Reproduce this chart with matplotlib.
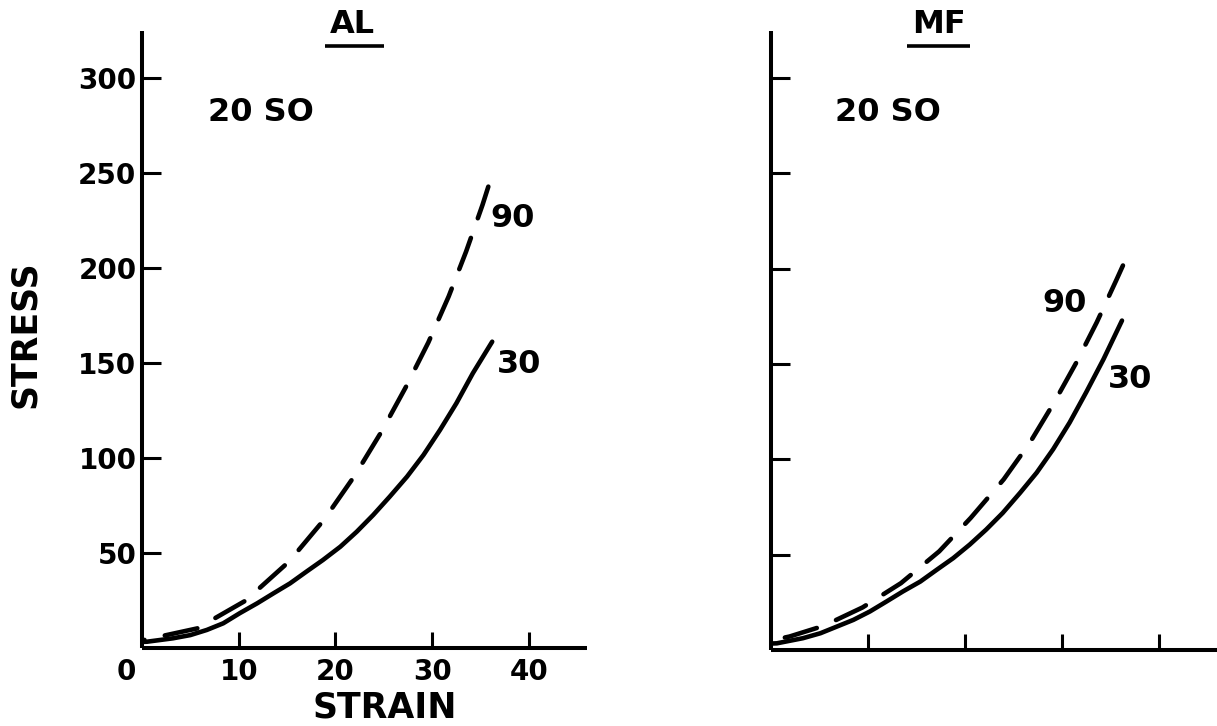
import matplotlib
matplotlib.use("Agg")
import matplotlib.pyplot as plt
import matplotlib.transforms as mtransforms

plt.rcParams['font.family'] = ['DejaVu Sans']
plt.rcParams['font.weight'] = 'bold'
plt.rcParams['lines.scale_dashes'] = False

# ---- data ----
al_90_x = [0, 5.7, 10.7, 15.2, 18.8, 22.0, 24.75, 27.25, 29.6, 31.7, 33.5, 35.2, 35.8]
al_90_y = [4, 10.3, 24.9, 45.5, 67.4, 90.8, 113.8, 137.1, 160.8, 185, 208.6, 233.2, 242.8]
al_30_x = [0, 0.5, 3.2, 5.0, 6.7, 8.4, 10.1, 11.9, 13.6, 15.3, 17.0, 18.7, 20.5, 22.2,
           23.9, 25.6, 27.4, 29.1, 30.8, 32.5, 34.2, 36.2]
al_30_y = [3.2, 3.3, 5.1, 6.8, 9.5, 13, 18.3, 23.5, 28.8, 34, 40.2, 46.3, 53.3, 61.2,
           70, 79.6, 90.2, 101.6, 114.7, 128.8, 144.6, 161.2]

mf_90_x = [0, 1.9, 5.45, 9.45, 13.4, 17.35, 20.6, 24.0, 26.7, 29.25, 31.5, 33.6, 35.6, 36.3]
mf_90_y = [5, 7.05, 12.7, 22.35, 35.05, 51.75, 69.3, 89.5, 108.75, 130.25, 150.85, 171.9,
           193.85, 201.7]
mf_30_x = [0, 0.6, 3.3, 5.1, 6.8, 8.5, 10.2, 11.9, 13.6, 15.4, 17.1, 18.8, 20.5, 22.2,
           23.9, 25.7, 27.4, 29.1, 30.8, 32.5, 34.3, 36.2]
mf_30_y = [3.4, 3.5, 6.2, 8.8, 12.3, 15.8, 20.2, 25.4, 30.7, 35.9, 42.1, 48.2, 55.3, 63.2,
           71.9, 82.5, 93, 105.3, 119.3, 135.1, 152.6, 172.8]

x_ticks = [0, 10, 20, 30, 40]
x_tick_labels = ["0", "10", "20", "30", "40"]
y_ticks = [50, 100, 150, 200, 250, 300]
y_tick_labels = ["50", "100", "150", "200", "250", "300"]
panel_titles = ["AL", "MF"]
series_labels = ["90", "30"]
condition = "20 SO"

W, H = 1217, 726
fig = plt.figure(figsize=(W / 100, H / 100), dpi=100)

def px_axes(x0, x1, ybot, ytop):
    return fig.add_axes([x0 / W, 1 - ybot / H, (x1 - x0) / W, (ybot - ytop) / H])

axL = px_axes(142, 587, 648, 31)
axR = px_axes(771, 1217, 650, 31)

XLIM = (0, 46)
YLIM = (0, 324.7)
lw_curve = 3.3
dash = (0, (24, 15))

def style(ax):
    ax.set_xlim(*XLIM)
    ax.set_ylim(*YLIM)
    for s in ['top', 'right']:
        ax.spines[s].set_visible(False)
    for s in ['left', 'bottom']:
        ax.spines[s].set_linewidth(2.9)
        ax.spines[s].set_capstyle('butt')
    ax.tick_params(axis='y', direction='in', length=14, width=2.2, color='black')
    ax.tick_params(axis='x', direction='in', length=11.5, width=2.2, color='black')

for ax in (axL, axR):
    style(ax)

# Left panel (dashed drawn from its upper end so the dash pattern starts there)
axL.plot(al_90_x[::-1], al_90_y[::-1], color='black', lw=lw_curve, linestyle=dash,
         dash_capstyle='round', solid_capstyle='round', solid_joinstyle='round')
axL.plot(al_30_x, al_30_y, color='black', lw=lw_curve, solid_capstyle='round',
         solid_joinstyle='round')
axL.set_xticks(x_ticks)
axL.set_xticklabels(x_tick_labels, fontsize=20, fontweight='bold')
axL.set_yticks(y_ticks)
axL.set_yticklabels(y_tick_labels, fontsize=20, fontweight='bold')
axL.tick_params(axis='y', pad=4)
axL.tick_params(axis='x', pad=7)
t0 = axL.xaxis.get_major_ticks()[0]
t0.tick1line.set_visible(False)
t0.label1.set_transform(t0.label1.get_transform()
                        + mtransforms.ScaledTranslation(-0.16, 0, fig.dpi_scale_trans))

axL.text(38.3, 226, series_labels[0], fontsize=23, ha='center', va='center')
axL.text(39.0, 149, series_labels[1], fontsize=23, ha='center', va='center')
axL.text(12.3, 282, condition, fontsize=23, ha='center', va='center')
axL.text(21.7, 328, panel_titles[0], fontsize=23, ha='center', va='center', clip_on=False)
axL.plot([18.9, 25.0], [317, 317], color='black', lw=2.6, clip_on=False, solid_capstyle='butt')

# Right panel
axR.plot(mf_90_x[::-1], mf_90_y[::-1], color='black', lw=lw_curve, linestyle=dash,
         dash_capstyle='round', solid_capstyle='round', solid_joinstyle='round')
axR.plot(mf_30_x, mf_30_y, color='black', lw=lw_curve, solid_capstyle='round',
         solid_joinstyle='round')
axR.set_xticks(x_ticks[1:])
axR.set_xticklabels([])
axR.set_yticks(y_ticks)
axR.set_yticklabels([])
axR.text(30.3, 182, series_labels[0], fontsize=23, ha='center', va='center')
axR.text(37.0, 142, series_labels[1], fontsize=23, ha='center', va='center')
axR.text(12.1, 282, condition, fontsize=23, ha='center', va='center')
axR.text(17.3, 328, panel_titles[1], fontsize=23, ha='center', va='center', clip_on=False)
axR.plot([14.0, 20.5], [317, 317], color='black', lw=2.6, clip_on=False, solid_capstyle='butt')

# Axis labels
fig.text(25 / W, 1 - 334 / H, "STRESS", rotation=90, fontsize=25, ha='center', va='center')
fig.text(385 / W, 1 - 708 / H, "STRAIN", fontsize=25, ha='center', va='center')

fig.savefig("out.png", dpi=100, facecolor='white')
